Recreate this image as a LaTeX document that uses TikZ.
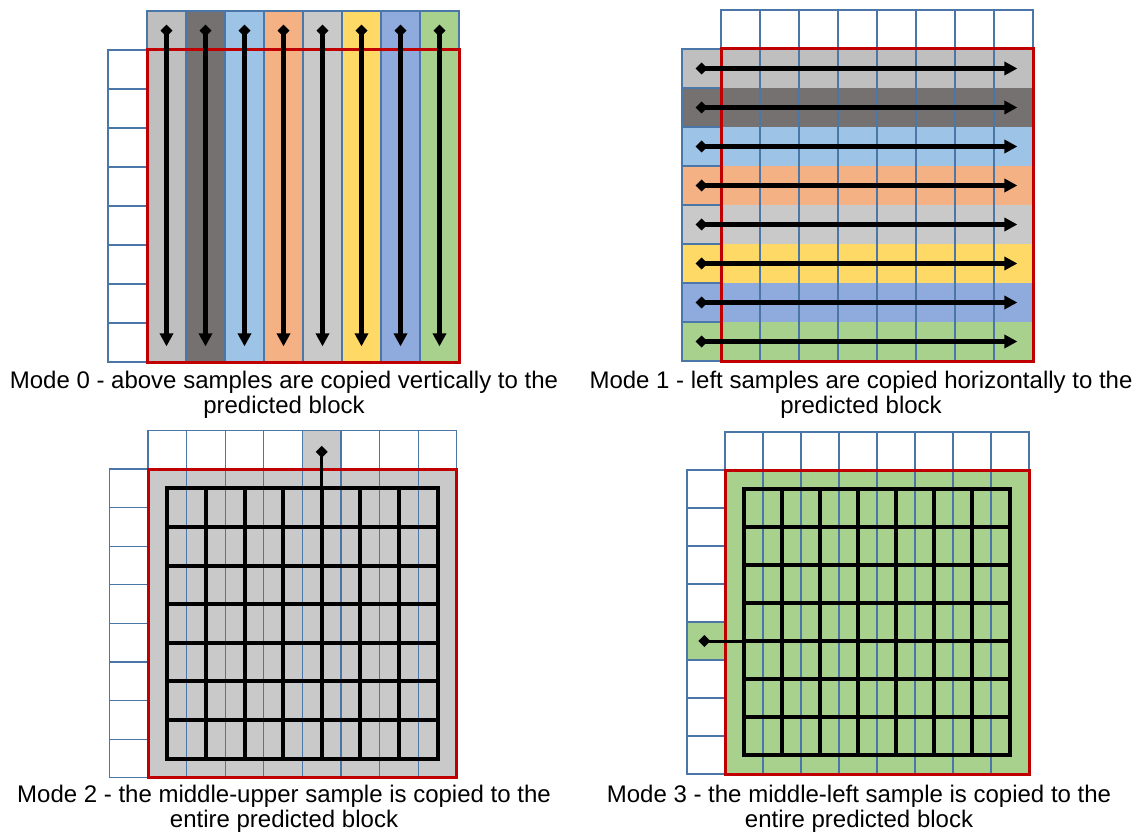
\documentclass[tikz,border=0pt]{standalone}
\usepackage{fontspec}
\setmainfont{Liberation Sans}
\usetikzlibrary{arrows.meta}

\definecolor{cellline}{HTML}{4A76A8}
\definecolor{blockred}{HTML}{C00000}
\definecolor{grayA}{HTML}{BFBFBF}
\definecolor{grayB}{HTML}{767171}
\definecolor{grayC}{HTML}{C9C9C9}
\definecolor{blueA}{HTML}{9DC3E6}
\definecolor{blueB}{HTML}{8FAADC}
\definecolor{orangeA}{HTML}{F4B183}
\definecolor{yellowA}{HTML}{FFD966}
\definecolor{greenA}{HTML}{A9D18E}

\tikzset{
  cell/.style={draw=cellline, line width=1.2pt},
  block/.style={draw=blockred, line width=3pt},
  copyarrow/.style={line width=4.6pt, {Diamond[length=12pt,width=12pt]}-{Triangle[length=13pt,width=13pt]}},
  srcline/.style={line width=3pt, {Diamond[length=12pt,width=12pt]}-},
  fanline/.style={line width=4pt, line cap=rect},
  caption/.style={align=center, inner sep=0pt, font=\fontsize{24}{25.5}\selectfont}
}

\begin{document}
\begin{tikzpicture}[x=1pt, y=-1pt]
  \useasboundingbox (0,0) rectangle (1137,834);

  % Mode 0: above samples copied down
  \begin{scope}[shift={(147,50)}, x=39pt, y=-39pt]
    \foreach \col [count=\i from 0] in {grayA,grayB,blueA,orangeA,grayC,yellowA,blueB,greenA}
      \fill[\col] (\i,-1) rectangle ++(1,9);
    \foreach \i in {0,...,7} {
      \draw[cell] (\i,-1) rectangle ++(1,1);
      \draw[cell] (-1,\i) rectangle ++(1,1);
    }
    \draw[cell] (0,0) grid[step=1] (8,8);
    \draw[block] (0,0) rectangle (8,8);
    \foreach \i in {0,...,7}
      \draw[copyarrow] (\i+0.5,-0.65) -- (\i+0.5,7.6);
  \end{scope}

  % Mode 1: left samples copied across
  \begin{scope}[shift={(721,49)}, x=39pt, y=-39pt]
    \foreach \col [count=\i from 0] in {grayA,grayB,blueA,orangeA,grayC,yellowA,blueB,greenA}
      \fill[\col] (-1,\i) rectangle ++(9,1);
    \foreach \i in {0,...,7} {
      \draw[cell] (\i,-1) rectangle ++(1,1);
      \draw[cell] (-1,\i) rectangle ++(1,1);
    }
    \draw[cell] (0,0) grid[step=1] (8,8);
    \draw[block] (0,0) rectangle (8,8);
    \foreach \i in {0,...,7}
      \draw[copyarrow] (-0.65,\i+0.5) -- (7.6,\i+0.5);
  \end{scope}

  % Mode 2: middle-upper sample fills the block
  \begin{scope}[shift={(148,469)}, x=38.6pt, y=-38.6pt]
    \fill[grayC] (0,0) rectangle (8,8);
    \fill[grayC] (4,-1) rectangle ++(1,1);
    \foreach \i in {0,...,7} {
      \draw[cell] (\i,-1) rectangle ++(1,1);
      \draw[cell] (-1,\i) rectangle ++(1,1);
    }
    \draw[cell] (0,0) grid[step=1] (8,8);
    \draw[block] (0,0) rectangle (8,8);
    \foreach \k in {0,...,7} {
      \draw[fanline] (\k+0.5,0.5) -- (\k+0.5,7.5);
      \draw[fanline] (0.5,\k+0.5) -- (7.5,\k+0.5);
    }
    \coordinate (upper-src) at (4.5,-0.6);
    \coordinate (upper-dst) at (4.5,0.5);
    \draw[srcline] (upper-src) -- (upper-dst);
  \end{scope}

  % Mode 3: middle-left sample fills the block
  \begin{scope}[shift={(725,470)}, x=38pt, y=-38pt]
    \fill[greenA] (0,0) rectangle (8,8);
    \fill[greenA] (-1,4) rectangle ++(1,1);
    \foreach \i in {0,...,7} {
      \draw[cell] (\i,-1) rectangle ++(1,1);
      \draw[cell] (-1,\i) rectangle ++(1,1);
    }
    \draw[cell] (0,0) grid[step=1] (8,8);
    \draw[block] (0,0) rectangle (8,8);
    \foreach \k in {0,...,7} {
      \draw[fanline] (\k+0.5,0.5) -- (\k+0.5,7.5);
      \draw[fanline] (0.5,\k+0.5) -- (7.5,\k+0.5);
    }
    \coordinate (left-src) at (-0.7,4.5);
    \coordinate (left-dst) at (0.5,4.5);
    \draw[srcline] (left-src) -- (left-dst);
  \end{scope}

  % captions
  \node[caption] (cap-mode0) at (284,395) {Mode 0 - above samples are copied vertically to the\\predicted block};
  \node[caption] (cap-mode1) at (861,395) {Mode 1 - left samples are copied horizontally to the\\predicted block};
  \node[caption] (cap-mode2) at (284,809) {Mode 2 - the middle-upper sample is copied to the\\entire predicted block};
  \node[caption] (cap-mode3) at (859,809) {Mode 3 - the middle-left sample is copied to the\\entire predicted block};
\end{tikzpicture}
\end{document}
